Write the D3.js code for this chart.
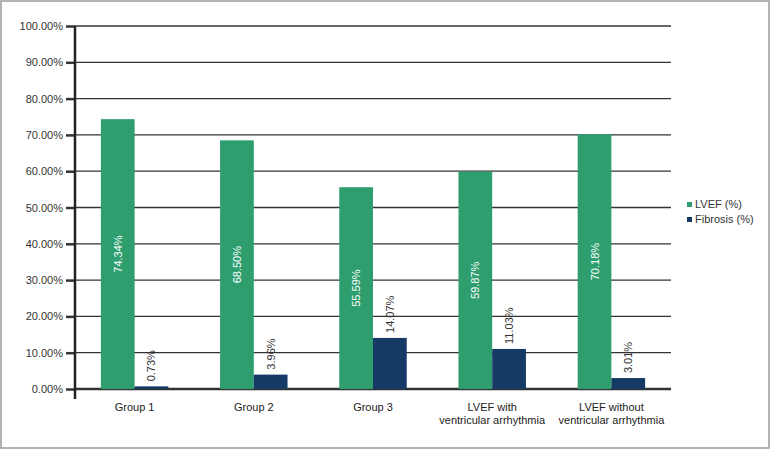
<!DOCTYPE html>
<html><head><meta charset="utf-8">
<script src="https://cdn.jsdelivr.net/npm/d3@7"></script>
<style>body{margin:0;background:#fff}svg{display:block}text{font-family:"Liberation Sans Narrow","Liberation Sans",Arial,sans-serif}</style>
</head><body><svg id="c" width="771" height="450"></svg>
<script>
const categories = [["Group 1"],["Group 2"],["Group 3"],["LVEF with","ventricular arrhythmia"],["LVEF without","ventricular arrhythmia"]];
const lvef = [74.34, 68.50, 55.59, 59.87, 70.18];
const fibrosis = [0.73, 3.96, 14.07, 11.03, 3.01];
const seriesNames = ["LVEF (%)", "Fibrosis (%)"];
const yTicks = [0,10,20,30,40,50,60,70,80,90,100];
const colors = ["#2e9e6f", "#153a66"];

const svg = d3.select("#c");
svg.append("rect").attr("x",1).attr("y",1).attr("width",768).attr("height",447).attr("fill","none").attr("stroke","#999").attr("stroke-width",1.5);

const x0 = 75, x1 = 671, yTop = 26, yBot = 389;
const y = d3.scaleLinear().domain([0,100]).range([yBot, yTop]);
const xb = d3.scaleBand().domain(d3.range(categories.length)).range([x0, x1]);
const step = xb.step(), bw = step*0.283;

// gridlines
const g = svg.append("g");
yTicks.forEach(t=>{
  g.append("line").attr("x1",x0).attr("x2",x1).attr("y1",y(t)).attr("y2",y(t))
   .attr("stroke", "#333").attr("stroke-width", t===0?2.5:1.3);
});
// axis
const ax = svg.append("g").attr("transform",`translate(${x0},0)`)
  .call(d3.axisLeft(y).tickValues(yTicks).tickSize(9).tickPadding(3).tickFormat(d=>d.toFixed(2)+"%"));
ax.select(".domain").remove();
ax.selectAll(".tick line").attr("stroke","#333").attr("stroke-width",2.5);
ax.selectAll(".tick text").attr("font-size",11).attr("fill","#333");
svg.append("line").attr("x1",x0).attr("x2",x0).attr("y1",yTop).attr("y2",399).attr("stroke","#222").attr("stroke-width",2.5);

categories.forEach((c,i)=>{
  const cx = xb(i)+step/2;
  // LVEF
  svg.append("rect").attr("x",cx-bw).attr("y",y(lvef[i])).attr("width",bw).attr("height",yBot-y(lvef[i])).attr("fill",colors[0]);
  svg.append("rect").attr("x",cx).attr("y",y(fibrosis[i])).attr("width",bw).attr("height",yBot-y(fibrosis[i])).attr("fill",colors[1]);
  const lx = cx-bw/2, ly = (y(lvef[i])+yBot)/2;
  svg.append("text").attr("transform",`translate(${lx+4},${ly}) rotate(-90)`).attr("text-anchor","middle")
    .attr("font-size",11).attr("fill","#fff").text(lvef[i].toFixed(2)+"%");
  const fx = cx+bw/2, fy = y(fibrosis[i])-5;
  svg.append("text").attr("transform",`translate(${fx+4},${fy}) rotate(-90)`).attr("text-anchor","start")
    .attr("font-size",11).attr("fill","#333").text(fibrosis[i].toFixed(2)+"%");
  c.forEach((line,k)=>{
    svg.append("text").attr("x",cx).attr("y",411+k*13).attr("text-anchor","middle").attr("font-size",11).attr("fill","#222").text(line);
  });
});

// legend
seriesNames.forEach((s,i)=>{
  svg.append("rect").attr("x",687).attr("y",202+i*15).attr("width",5).attr("height",5).attr("fill",colors[i]);
  svg.append("text").attr("x",695).attr("y",208+i*15).attr("font-size",11).attr("fill","#333").text(s);
});
</script></body></html>
